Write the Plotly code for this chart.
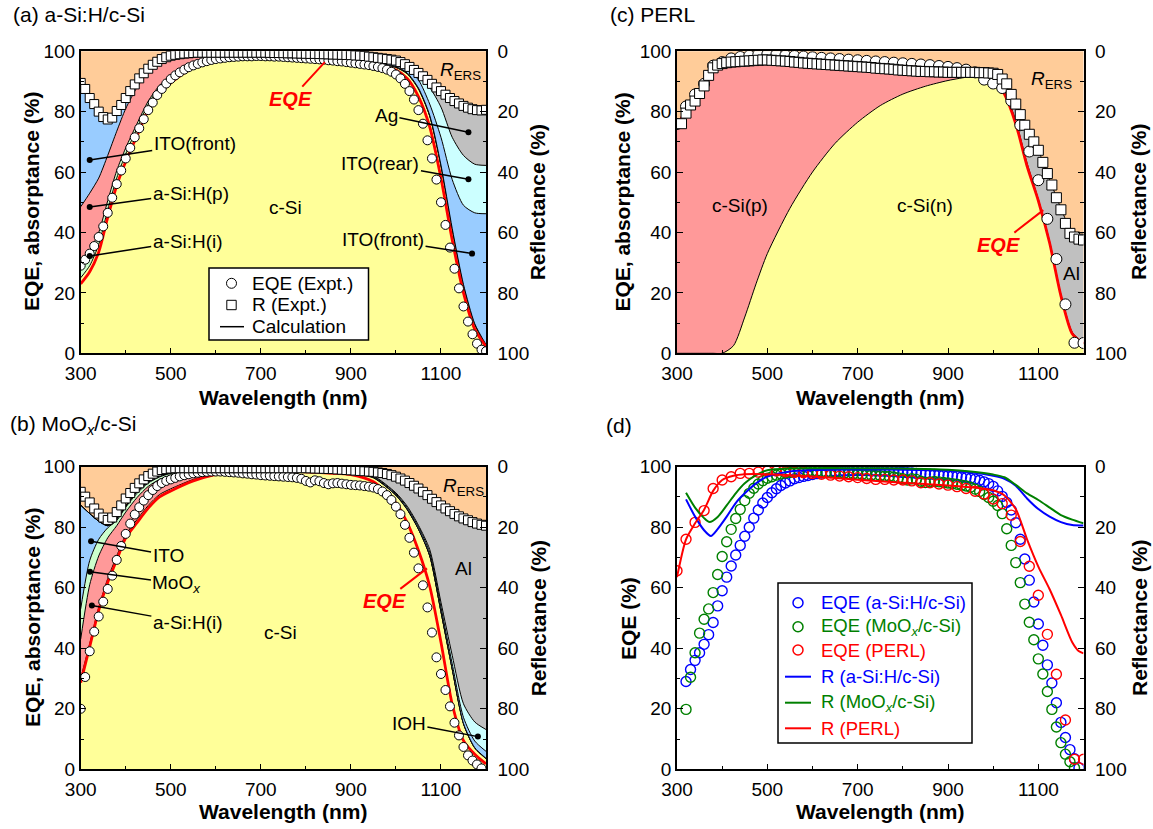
import plotly.graph_objects as go

FONT = "Liberation Sans, Arial, sans-serif"

YELLOW = "#FFFF99"
PINK = "#FF9999"
BLUE = "#99CCFF"
CYAN = "#CCFFFF"
GREY = "#C0C0C0"
GREEN = "#CCFFCC"
ORANGE = "#FFCC99"

# ---------------------------------------------------------------- wavelengths
lam_calc = [300, 320, 340, 360, 380, 400, 425, 450, 475, 500, 550, 600, 650, 700,
            750, 800, 850, 900, 950, 1000, 1025, 1050, 1075, 1100, 1125, 1150, 1175, 1200]
lam_10 = list(range(300, 1201, 10))
lam_b_eqe = list(range(300, 1191, 10))
lam_c_eqe = list(range(300, 1201, 20))
lam_c_r = list(range(310, 1201, 10))

# ---------------------------------------------------------------- (a) a-Si:H/c-Si, layer absorptance (%)
a_csi = [25, 29, 36, 47.5, 58, 66, 74.5, 82.5, 88, 91.5, 95.8, 97.8, 98.3, 98.4,
         98.2, 97.8, 97.3, 96.8, 96.0, 94.6, 92.5, 87.5, 78.5, 62, 41, 22.5, 9.5, 2.6]
a_asi_i = [5, 5, 4, 3, 2.5, 2, 1.5, 1, 0.7, 0.5, 0.3, 0.2, 0.1, 0.1,
           0.1, 0.1, 0.1, 0.1, 0.1, 0.1, 0.1, 0.1, 0.1, 0.1, 0.1, 0.1, 0.1, 0.1]
a_asi_p = [18.5, 19, 18, 15, 13, 13, 12, 9.5, 6.8, 5, 2.4, 0.8, 0.3, 0.2,
           0.2, 0.2, 0.2, 0.2, 0.2, 0.2, 0.2, 0.2, 0.2, 0.2, 0.2, 0.2, 0.2, 0.2]
a_ito_front = [40, 31, 21.5, 12, 6, 3, 1.5, 0.5, 0.5, 0.5, 0.3, 0.2, 0.3, 0.3,
               0.3, 0.5, 0.6, 0.7, 0.9, 0.9, 1.2, 2.7, 3.7, 9.2, 16.2, 26.2, 36.7, 43.3]
a_ito_rear = [0, 0, 0, 0, 0, 0, 0, 0, 0, 0, 0, 0.1, 0.1, 0.1,
              0.1, 0.1, 0.15, 0.2, 0.25, 0.5, 1.0, 1.5, 5.5, 10, 14, 16.5, 16.1, 16]
a_ag = [0, 0, 0, 0, 0, 0, 0, 0, 0, 0, 0, 0.1, 0.1, 0.1,
        0.1, 0.1, 0.15, 0.2, 0.25, 0.5, 0.5, 0.5, 1.5, 5, 12.5, 16.3, 17.9, 18]
a_eqe_calc = [23, 27, 33.5, 45, 55.5, 63.5, 72, 80.5, 86, 89.5, 94.5, 96.8, 97.6, 97.8,
              97.5, 97.1, 96.6, 96.1, 95.3, 93.8, 91, 85, 75, 58, 37.5, 20, 8, 2.2]
a_eqe_exp = [29, 31, 33, 35.5, 38.5, 42, 46.5, 51.5, 56, 60.5,
             64.5, 68, 71.5, 74.5, 77.5, 80.5, 83, 85.5, 87.5, 89.3,
             90.8, 92, 93, 93.9, 94.7, 95.3, 95.8, 96.3, 96.7, 97.1,
             97.4, 97.6, 97.8, 98, 98.1, 98.2, 98.3, 98.3, 98.3, 98.4,
             98.4, 98.3, 98.3, 98.2, 98.2, 98.1, 98, 97.9, 97.8, 97.7,
             97.6, 97.5, 97.4, 97.3, 97.2, 97, 96.9, 96.7, 96.6, 96.4,
             96.2, 96, 95.8, 95.6, 95.4, 95.1, 94.8, 94.4, 93.9, 93.2,
             92.3, 91, 89.2, 86.8, 84, 80.5, 76, 70.5, 64.5, 57.5,
             50, 42.5, 35, 28, 21.5, 15.5, 10.5, 6.3, 3.2, 1.2, 0.7]
a_r_exp = [10.5, 12.5, 15.5, 17.5, 20, 21.8, 22.6, 22, 19.8, 17.8,
           15.5, 13.2, 11, 9, 7.3, 5.8, 4.5, 3.5, 2.6, 2,
           1.5, 1.2, 1, 0.8, 0.7, 0.6, 0.5, 0.5, 0.5, 0.5,
           0.5, 0.5, 0.5, 0.5, 0.5, 0.5, 0.5, 0.5, 0.5, 0.5,
           0.5, 0.5, 0.55, 0.6, 0.6, 0.65, 0.7, 0.7, 0.75, 0.8,
           0.85, 0.9, 0.9, 0.95, 1, 1.05, 1.1, 1.15, 1.2, 1.25,
           1.3, 1.4, 1.5, 1.6, 1.8, 2, 2.2, 2.4, 2.6, 2.8,
           3.1, 3.6, 4.3, 5.2, 6.2, 7.2, 8.3, 9.5, 10.8, 12,
           13.2, 14.4, 15.5, 16.5, 17.3, 18.1, 18.7, 19.2, 19.5, 19.6, 19.4]

# ---------------------------------------------------------------- (b) MoOx/c-Si
b_csi = [30, 41.5, 53.5, 63, 70.5, 77.5, 82.5, 87.2, 90.8, 92.7, 95.8, 97.9, 98.9, 99.1,
         98.9, 98.6, 98.2, 97.7, 96.3, 90.5, 85.8, 79.3, 70.5, 52, 33, 15, 7, 3.5]
b_asi_i = [13, 19.5, 17, 13.5, 10, 7.5, 7.3, 6.3, 5, 4.5, 2.8, 1.1, 0.3, 0.2,
           0.2, 0.2, 0.2, 0.2, 0.1, 0.1, 0.1, 0.1, 0.1, 0.1, 0.1, 0.1, 0.1, 0.1]
b_moox = [10, 8, 5.5, 3.3, 1.7, 1.6, 1.4, 1.1, 0.8, 0.6, 0.3, 0.1, 0.05, 0.05,
          0.05, 0.05, 0.05, 0.05, 0.05, 0.05, 0.05, 0.05, 0.05, 0.05, 0.05, 0.05, 0.05, 0.05]
b_ito = [34.3, 15.5, 6, 0.7, 0.6, 0.4, 0.6, 0.4, 0.4, 0.4, 0.3, 0.3, 0.25, 0.15,
         0.25, 0.35, 0.45, 0.45, 0.3, 0.4, 0.5, 0.7, 1.0, 1.4, 1.7, 2, 2.2, 2.3]
b_ioh = [0, 0, 0, 0, 0, 0, 0, 0, 0, 0, 0, 0, 0, 0,
         0.05, 0.1, 0.15, 0.2, 0.2, 0.3, 0.5, 0.5, 1, 1.6, 2.8, 4.5, 6.3, 7.2]
b_al = [0, 0, 0, 0, 0, 0, 0, 0, 0, 0, 0, 0, 0, 0,
        0.05, 0.1, 0.15, 0.2, 1.25, 5.15, 8.05, 12.15, 17.35, 32.05, 47.35, 61.35, 65.85, 66.85]
b_eqe_calc = [28.6, 40.5, 52.5, 61.8, 69.2, 76.5, 81.5, 86.3, 90, 92, 95.3, 97.5, 98.6, 98.8,
              98.6, 98.3, 97.9, 97.4, 95, 88, 81.5, 72.3, 60.5, 42, 21.5, 9.5, 5, 1.8]
b_eqe_exp = [20, 30.5, 39, 45.5, 50.5, 55.4, 59.6, 64, 69.2, 73.8,
             77.8, 81.2, 84.2, 86.6, 88.8, 90.6, 92.3, 93.6, 94.6, 95.3,
             95.8, 96.3, 96.8, 97.2, 97.5, 97.8, 98, 98.2, 98.3, 98.4,
             98.4, 98.4, 98.3, 98.2, 98.1, 98, 97.8, 97.7, 97.5, 97.4,
             97.2, 97.1, 97, 96.9, 96.8, 96.7, 96.6, 96.5, 96.3, 96,
             95.3, 94.8, 95.5, 95.2, 94.6, 94.2, 94.5, 94.6, 94.4, 94.2,
             94, 93.9, 93.8, 93.6, 93.4, 93.1, 92.6, 91.8, 90.6, 89,
             86.8, 84.3, 80.8, 76.5, 71.6, 66.4, 60.8, 53.5, 45.2, 37,
             31.5, 26.2, 20.8, 15.4, 11.2, 7.4, 4.6, 2.9, 1.6, 0.3]
b_r_exp = [8.3, 9.9, 11.8, 13.8, 15.5, 16.8, 17.6, 16.8, 15, 12.8,
           10.5, 8.7, 7, 5.5, 4.2, 3.1, 2.3, 1.6, 1.1, 0.8,
           0.6, 0.5, 0.5, 0.5, 0.5, 0.5, 0.5, 0.5, 0.5, 0.5,
           0.5, 0.5, 0.5, 0.5, 0.5, 0.5, 0.5, 0.5, 0.5, 0.5,
           0.5, 0.5, 0.5, 0.5, 0.5, 0.5, 0.5, 0.5, 0.5, 0.5,
           0.5, 0.55, 0.6, 0.65, 0.7, 0.75, 0.8, 0.9, 1, 1.1,
           1.2, 1.3, 1.4, 1.5, 1.6, 1.7, 1.9, 2.1, 2.4, 2.8,
           3.3, 3.9, 4.6, 5.4, 6.3, 7.2, 8.3, 9.4, 10.6, 11.7,
           12.8, 13.8, 14.7, 15.6, 16.4, 17.1, 17.7, 18.3, 18.8, 19.2, 19.5]

# ---------------------------------------------------------------- (c) PERL
c_csi_n = [0, 0, 0, 0, 0, 0, 2.5, 12, 23, 33, 48, 60, 69.5, 76.5,
           82, 85.8, 88.4, 90.3, 91.6, 92.3, 86.8, 76.8, 62.8, 50.8, 36.8, 19.3, 6.8, 3.2]
c_csi_p = [75, 81.3, 85.3, 89.8, 94, 95.6, 93.7, 84.5, 73.8, 63.9, 48.5, 35.8, 25.8, 18.3,
           12.2, 7.8, 4.8, 2.6, 1.3, 0.3, 0.2, 0.2, 0.2, 0.2, 0.2, 0.2, 0.2, 0.2]
c_al = [0, 0, 0, 0, 0, 0.1, 0.1, 0.1, 0.1, 0.1, 0.1, 0.1, 0.1, 0.1,
        0.1, 0.1, 0.1, 0.1, 0.1, 0.1, 2.5, 5.5, 12, 16.2, 20.5, 28.5, 33, 34.6]
c_eqe_calc = [74.5, 81, 85, 89.5, 93.6, 95.5, 96.3, 96.9, 97.4, 97.7, 97.6, 97.2, 96.5, 95.9,
              95.2, 94.6, 94.2, 93.7, 93.2, 91.2, 85.8, 76, 62, 50.5, 36.5, 19, 6.5, 3.2]
c_eqe_exp = [75.9, 81.7, 85.7, 89.2, 95.2, 96.4, 97.6, 98.1, 98.5, 98.9,
             99, 98.9, 98.6, 98.4, 98.2, 98, 97.8, 97.6, 97.4, 97.2,
             97, 96.8, 96.6, 96.4, 96.2, 96, 95.8, 95.6, 95.4, 95.1,
             94.8, 94.4, 93.9, 93, 90.6, 89.3, 87.8, 83.6, 75.5, 66.8,
             57.3, 44.5, 31.2, 16.2, 3.5, 3.4]
c_r_exp = [24, 20.5, 17.8, 16.5, 14, 11.5, 8, 5.5, 4.6, 4.1,
           3.8, 3.6, 3.5, 3.4, 3.3, 3.2, 3.1, 3.0, 2.9, 2.9,
           3.0, 3.1, 3.2, 3.3, 3.4, 3.6, 3.7, 3.9, 4.0, 4.1,
           4.2, 4.3, 4.4, 4.5, 4.6, 4.7, 4.8, 4.9, 5.0, 5.1,
           5.2, 5.3, 5.4, 5.6, 5.7, 5.8, 5.9, 6.0, 6.2, 6.3,
           6.4, 6.5, 6.6, 6.7, 6.7, 6.8, 6.8, 6.9, 6.9, 7.0,
           7.0, 7.0, 7.0, 7.0, 7.0, 7.0, 7.1, 7.1, 7.2, 7.3,
           7.7, 9.2, 10.8, 14.3, 17.5, 21, 24.5, 27.5, 30, 32.8,
           36.8, 40.5, 44.3, 48.5, 52.5, 57, 60.3, 61.5, 62.2, 62.5]

# ---------------------------------------------------------------- (d) comparison
lam_d_asi_line = [320, 340, 360, 375, 390, 410, 430, 450, 475, 500, 550, 600, 700, 800,
                  900, 950, 1000, 1025, 1050, 1075, 1100, 1125, 1150, 1175, 1200]
d_r_asi = [10.8, 16.5, 21, 22.9, 20.6, 16.5, 12, 8.8, 5.5, 3.3, 1.6, 1.1, 0.9, 1.0,
           1.3, 1.8, 3.0, 4.0, 6.3, 10.5, 14.0, 16.5, 18.3, 19.3, 19.4]
lam_d_moox_line = [320, 340, 360, 372, 390, 410, 430, 450, 475, 500, 550, 600, 700, 800,
                   900, 950, 1000, 1025, 1050, 1075, 1100, 1125, 1150, 1175, 1200]
d_r_moox = [8.6, 13.5, 17, 18.3, 16.6, 12.8, 8.8, 5.5, 2.8, 1.2, 0.6, 0.5, 0.5, 0.6,
            1.0, 1.6, 2.6, 3.5, 6.0, 8.8, 11, 13.5, 16, 17.5, 18.7]
lam_d_perl_line = [300, 320, 340, 360, 380, 400, 425, 450, 500, 550, 600, 700, 800, 900,
                   950, 1000, 1025, 1050, 1075, 1100, 1125, 1150, 1175, 1190, 1200]
d_r_perl = [36.5, 24, 18.7, 14.2, 8, 4.4, 3, 2.5, 2.5, 2.8, 3.2, 4.3, 5.3, 6.2,
            6.8, 7.8, 9.5, 14, 24, 33, 40.5, 49, 58, 61, 61.7]

lam_d_asi = list(range(320, 1191, 10))
d_eqe_asi = [29, 33, 36, 38.5, 41.3, 44.5, 48.5, 54, 59, 63.5,
             67.2, 70.8, 74, 77, 80, 83, 85.7, 88, 89.8, 91.4,
             92.7, 93.8, 94.6, 95.3, 96, 96.4, 96.8, 97.1, 97.4, 97.7,
             97.9, 98.1, 98.3, 98.4, 98.5, 98.6, 98.6, 98.7, 98.7, 98.7,
             98.7, 98.6, 98.6, 98.5, 98.5, 98.4, 98.3, 98.2, 98.1, 98,
             97.9, 97.8, 97.7, 97.6, 97.5, 97.4, 97.3, 97.2, 97.1, 97,
             96.8, 96.6, 96.4, 96.2, 95.9, 95.5, 95, 94.4, 93.5, 92,
             90.2, 88.2, 85.7, 81.5, 76, 69.5, 62.5, 55.3, 48, 41,
             34.5, 28.5, 22, 15.5, 10.5, 6.5, 3.5, 0.5]
lam_d_moox = list(range(320, 1181, 10))
d_eqe_moox = [19.8, 30.4, 38.5, 45, 49.6, 53, 58.4, 64.4, 70.3, 75.2,
              79.3, 82.9, 85.9, 88.8, 91.2, 92.9, 94.3, 95.4, 96.2, 96.7,
              97.2, 97.6, 97.9, 98.1, 98.3, 98.4, 98.5, 98.5, 98.5, 98.4,
              98.3, 98.2, 98.1, 98, 97.9, 97.8, 97.7, 97.6, 97.5, 97.4,
              97.3, 97.2, 97.1, 97, 96.9, 96.8, 96.6, 96.3, 96, 95.6,
              96, 95.8, 95.2, 94.8, 95, 95.1, 95, 94.8, 94.6, 94.4,
              94.2, 93.9, 93.6, 93.2, 92.6, 91.8, 90.8, 89.8, 88.6, 87.2,
              84.5, 79.5, 74, 68.3, 61.7, 54.6, 48.6, 42.8, 36.5, 31.5,
              25.7, 19.8, 14, 8.8, 5, 2.5, 0.5]
lam_d_perl = list(range(300, 1201, 20))
d_eqe_perl = [65.6, 76, 81.6, 85.5, 92.8, 95.6, 96.7, 97.8, 97.8, 98.2,
              98.6, 98.6, 98.3, 98.1, 98, 97.8, 97.5, 97.2, 96.9, 96.7,
              96.4, 96.1, 95.8, 95.8, 95.6, 95.6, 95.3, 94.7, 94.7, 94.3,
              93.9, 93.4, 92.8, 91.9, 91, 89.3, 87.8, 84, 75.3, 67.1,
              57.5, 44.6, 31.4, 16.3, 3.3, 3.3]

# ---------------------------------------------------------------- figure
fig = go.Figure()

W, H = 1153, 829
XL = [80.7 / W, 486 / W]
XR = [677 / W, 1083.5 / W]
YT = [1 - 353.3 / H, 1 - 51.2 / H]
YB = [1 - 769.3 / H, 1 - 466.7 / H]

SPL = dict(shape="spline", smoothing=0.7)
D_BLUE, D_GREEN, D_RED = "#0000FF", "#008000", "#FF0000"


def add_stack(x, layers, group, xa, ya):
    for vals, color in layers:
        fig.add_trace(go.Scatter(
            x=x, y=vals, stackgroup=group, mode="lines",
            line=dict(color="black", width=1, **SPL), fillcolor=color,
            xaxis=xa, yaxis=ya, hoverinfo="skip"))


def add_eqe_line(x, y, xa, ya):
    fig.add_trace(go.Scatter(x=x, y=y, mode="lines", line=dict(color="#FF0000", width=2.8, **SPL),
                             xaxis=xa, yaxis=ya, hoverinfo="skip"))


def add_points(x, y, xa, ya, symbol, size):
    fig.add_trace(go.Scatter(
        x=x, y=y, mode="markers",
        marker=dict(symbol=symbol, size=size, color="white", line=dict(color="black", width=1)),
        xaxis=xa, yaxis=ya, hoverinfo="skip"))


# (a)
add_stack(lam_calc, [(a_csi, YELLOW), (a_asi_i, GREEN), (a_asi_p, PINK),
                     (a_ito_front, BLUE), (a_ito_rear, CYAN), (a_ag, GREY)], "a", "x", "y")
add_eqe_line(lam_calc, a_eqe_calc, "x", "y")
add_points(lam_10, a_eqe_exp, "x", "y", "circle", 9)
add_points(lam_10, a_r_exp, "x", "y2", "square", 9)

# (c)
add_stack(lam_calc, [(c_csi_n, YELLOW), (c_csi_p, PINK), (c_al, GREY)], "c", "x2", "y3")
add_eqe_line(lam_calc, c_eqe_calc, "x2", "y3")
add_points(lam_c_eqe, c_eqe_exp, "x2", "y3", "circle", 11)
add_points(lam_c_r, c_r_exp, "x2", "y4", "square", 10)

# (b)
add_stack(lam_calc, [(b_csi, YELLOW), (b_asi_i, PINK), (b_moox, GREEN),
                     (b_ito, BLUE), (b_ioh, CYAN), (b_al, GREY)], "b", "x3", "y5")
add_eqe_line(lam_calc, b_eqe_calc, "x3", "y5")
add_points(lam_b_eqe, b_eqe_exp, "x3", "y5", "circle", 9)
add_points(lam_10, b_r_exp, "x3", "y6", "square", 9)

# (d)
for lam, vals, col in [(lam_d_asi, d_eqe_asi, D_BLUE),
                       (lam_d_moox, d_eqe_moox, D_GREEN),
                       (lam_d_perl, d_eqe_perl, D_RED)]:
    fig.add_trace(go.Scatter(
        x=lam, y=vals, mode="markers",
        marker=dict(symbol="circle-open", size=10, color=col, line=dict(color=col, width=1.4)),
        xaxis="x4", yaxis="y7", hoverinfo="skip"))
for lam, vals, col in [(lam_d_asi_line, d_r_asi, D_BLUE),
                       (lam_d_moox_line, d_r_moox, D_GREEN),
                       (lam_d_perl_line, d_r_perl, D_RED)]:
    fig.add_trace(go.Scatter(x=lam, y=vals, mode="lines", line=dict(color=col, width=2, **SPL),
                             xaxis="x4", yaxis="y8", hoverinfo="skip"))

# ---------------------------------------------------------------- axes
TICKFONT = dict(family=FONT, size=19, color="black")
AXLINE = dict(showline=True, linecolor="black", linewidth=1.5, showgrid=False, zeroline=False,
              ticks="inside", ticklen=6, tickwidth=1.3, tickcolor="black", tickfont=TICKFONT,
              automargin=False)
MINOR = dict(ticks="inside", ticklen=3.5, tickwidth=1.2, tickcolor="black")


def xaxis(domain, anchor):
    return dict(domain=domain, anchor=anchor, range=[300, 1200], mirror=True,
                tickmode="array", tickvals=[300, 500, 700, 900, 1100],
                minor=dict(tickmode="array", tickvals=[400, 600, 800, 1000, 1200], **MINOR),
                ticklabelstandoff=2, **AXLINE)


def yleft(domain, anchor):
    return dict(domain=domain, anchor=anchor, range=[0, 100],
                tickmode="array", tickvals=[0, 20, 40, 60, 80, 100],
                minor=dict(tickmode="array", tickvals=[10, 30, 50, 70, 90], **MINOR),
                ticklabelstandoff=0, **AXLINE)


def yright(overlay, anchor):
    return dict(overlaying=overlay, anchor=anchor, side="right", range=[100, 0],
                tickmode="array", tickvals=[0, 20, 40, 60, 80, 100],
                minor=dict(tickmode="array", tickvals=[10, 30, 50, 70, 90], **MINOR),
                ticklabelstandoff=6, **AXLINE)


fig.update_layout(
    width=W, height=H, autosize=False, margin=dict(l=0, r=0, t=0, b=0, autoexpand=False),
    paper_bgcolor="white", plot_bgcolor="white", showlegend=False,
    font=dict(family=FONT, size=19, color="black"),
    xaxis=xaxis(XL, "y"), yaxis=yleft(YT, "x"), yaxis2=yright("y", "x"),
    xaxis2=xaxis(XR, "y3"), yaxis3=yleft(YT, "x2"), yaxis4=yright("y3", "x2"),
    xaxis3=xaxis(XL, "y5"), yaxis5=yleft(YB, "x3"), yaxis6=yright("y5", "x3"),
    xaxis4=xaxis(XR, "y7"), yaxis7=yleft(YB, "x4"), yaxis8=yright("y7", "x4"),
)

# orange background (reflected light) for the three absorptance panels
shapes = []
for xa, ya in [("x", "y"), ("x2", "y3"), ("x3", "y5")]:
    shapes.append(dict(type="rect", xref=f"{xa} domain", yref=f"{ya} domain",
                       x0=0, x1=1, y0=0, y1=1, fillcolor=ORANGE, line=dict(width=0), layer="below"))

ann = []


def px_x(v):
    return v / W


def px_y(v):
    return 1 - v / H


# ---------------------------------------------------------------- axis titles
def axis_title(x, y, s, angle=0):
    ann.append(dict(x=px_x(x), y=px_y(y), xref="paper", yref="paper", text=s, showarrow=False,
                    textangle=angle, xanchor="center", yanchor="middle",
                    font=dict(family=FONT, size=21, color="black", weight="bold")))


for x0, y0, xm, ym, left_title in [(32, 397, 283.3, 202, "EQE, absorptance (%)"),
                                   (622.6, 397, 880, 202, "EQE, absorptance (%)"),
                                   (32, 811.7, 283.3, 618, "EQE, absorptance (%)"),
                                   (628, 811.7, 880, 618, "EQE (%)")]:
    axis_title(x0, ym, left_title, -90)
    axis_title(xm + (255 if xm < 500 else 259), ym, "Reflectance (%)", -90)
    axis_title(xm, y0, "Wavelength (nm)")


# ---------------------------------------------------------------- legends
def legend_box(x0, x1, y0, y1):
    shapes.append(dict(type="rect", xref="paper", yref="paper", x0=px_x(x0), x1=px_x(x1),
                       y0=px_y(y1), y1=px_y(y0), fillcolor="white",
                       line=dict(color="black", width=1.5)))


def legend_circle(cx, cy, r, color, width):
    shapes.append(dict(type="circle", xref="paper", yref="paper", x0=px_x(cx - r), x1=px_x(cx + r),
                       y0=px_y(cy + r), y1=px_y(cy - r), fillcolor="white",
                       line=dict(color=color, width=width)))


def legend_square(cx, cy, h):
    shapes.append(dict(type="rect", xref="paper", yref="paper", x0=px_x(cx - h), x1=px_x(cx + h),
                       y0=px_y(cy + h), y1=px_y(cy - h), fillcolor="white",
                       line=dict(color="black", width=1)))


def legend_line(x0, x1, y, color, width):
    shapes.append(dict(type="line", xref="paper", yref="paper", x0=px_x(x0), x1=px_x(x1),
                       y0=px_y(y), y1=px_y(y), line=dict(color=color, width=width)))


def legend_text(x, y, s, color, size):
    ann.append(dict(x=px_x(x), y=px_y(y), xref="paper", yref="paper", text=s, showarrow=False,
                    xanchor="left", yanchor="middle",
                    font=dict(family=FONT, size=size, color=color)))


# legend of panel (a)
legend_box(209, 368.5, 268, 340)
legend_circle(231.5, 283.3, 5, "black", 1)
legend_square(231.5, 305, 4.7)
legend_line(220, 244, 326.7, "black", 1.5)
legend_text(250, 283.3, "EQE (Expt.)", "black", 19)
legend_text(250, 305, "R (Expt.)", "black", 19)
legend_text(250, 326.7, "Calculation", "black", 19)

# legend of panel (d)
legend_box(778, 972, 583, 743)
for cy, col, s in [(602.7, D_BLUE, "EQE (a-Si:H/c-Si)"),
                   (626.7, D_GREEN, "EQE (MoO<sub><i>x</i></sub>/c-Si)"),
                   (650, D_RED, "EQE (PERL)")]:
    legend_circle(798, cy, 5, col, 1.5)
    legend_text(819, cy, s, col, 18.5)
for cy, col, s in [(676.7, D_BLUE, "R (a-Si:H/c-Si)"),
                   (702.7, D_GREEN, "R (MoO<sub><i>x</i></sub>/c-Si)"),
                   (728.3, D_RED, "R (PERL)")]:
    legend_line(785, 811, cy, col, 2)
    legend_text(819, cy, s, col, 18.5)


# ---------------------------------------------------------------- in-plot labels
def text(x, y, s, xa, ya):
    ann.append(dict(x=x, y=y, xref=xa, yref=ya, text=s, showarrow=False,
                    font=dict(family=FONT, size=19, color="black")))


def dot_label(x, y, s, xa, ya, ax, ay):
    ann.append(dict(x=x, y=y, xref=xa, yref=ya, text=s, showarrow=True,
                    arrowhead=6, arrowsize=1.0, arrowwidth=1.5, arrowcolor="black",
                    ax=ax, ay=ay, font=dict(family=FONT, size=19, color="black")))


def eqe_label(x, y, xa, ya, ax, ay):
    ann.append(dict(x=x, y=y, xref=xa, yref=ya, text="<b><i>EQE</i></b>", showarrow=True,
                    arrowhead=0, arrowwidth=2, arrowcolor="#FF0000", ax=ax, ay=ay,
                    font=dict(family=FONT, size=20, color="#FF0000")))


RERS = "<i>R</i><sub>ERS</sub>"

# (a)
text(754, 48.2, "c-Si", "x", "y")
text(1144, 93.6, RERS, "x", "y")
dot_label(320, 64, "ITO(front)", "x", "y", 105, -16)
dot_label(320, 48.4, "a-Si:H(p)", "x", "y", 101, -14)
dot_label(320, 32.2, "a-Si:H(i)", "x", "y", 98, -15)
dot_label(1161, 73.2, "Ag", "x", "y", -82, -17)
dot_label(1161, 57.6, "ITO(rear)", "x", "y", -88, -16)
dot_label(1169, 33, "ITO(front)", "x", "y", -89, -14)
eqe_label(842, 96.4, "x", "y", -34, 37)

# (c)
text(440, 49, "c-Si(p)", "x2", "y3")
text(848, 49, "c-Si(n)", "x2", "y3")
text(1130, 90.3, RERS, "x2", "y3")
text(1174, 26.4, "Al", "x2", "y3")
eqe_label(1111, 47.4, "x2", "y3", -45, 35)

# (b)
text(743, 45.1, "c-Si", "x3", "y5")
text(1149, 66.4, "Al", "x3", "y5")
text(1149, 93.2, RERS, "x3", "y5")
dot_label(323, 75.4, "ITO", "x3", "y5", 77, 14)
dot_label(320.6, 65.3, "MoO<sub><i>x</i></sub>", "x3", "y5", 87, 12)
dot_label(324.8, 54.1, "a-Si:H(i)", "x3", "y5", 96, 17)
dot_label(1182, 10.8, "IOH", "x3", "y5", -69, -13)
eqe_label(1069, 66.4, "x3", "y5", -43, 33)

# panel titles
for px, py, s in [(11, 15, "(a) a-Si:H/c-Si"), (607.7, 15, "(c) PERL"),
                  (8, 425, "(b) MoO<sub><i>x</i></sub>/c-Si"), (604, 425, "(d)")]:
    ann.append(dict(x=px_x(px), y=px_y(py), xref="paper", yref="paper", text=s,
                    showarrow=False, xanchor="left", yanchor="middle",
                    font=dict(family=FONT, size=21, color="black")))

fig.update_layout(shapes=shapes, annotations=ann)

fig.write_html("out.html")
